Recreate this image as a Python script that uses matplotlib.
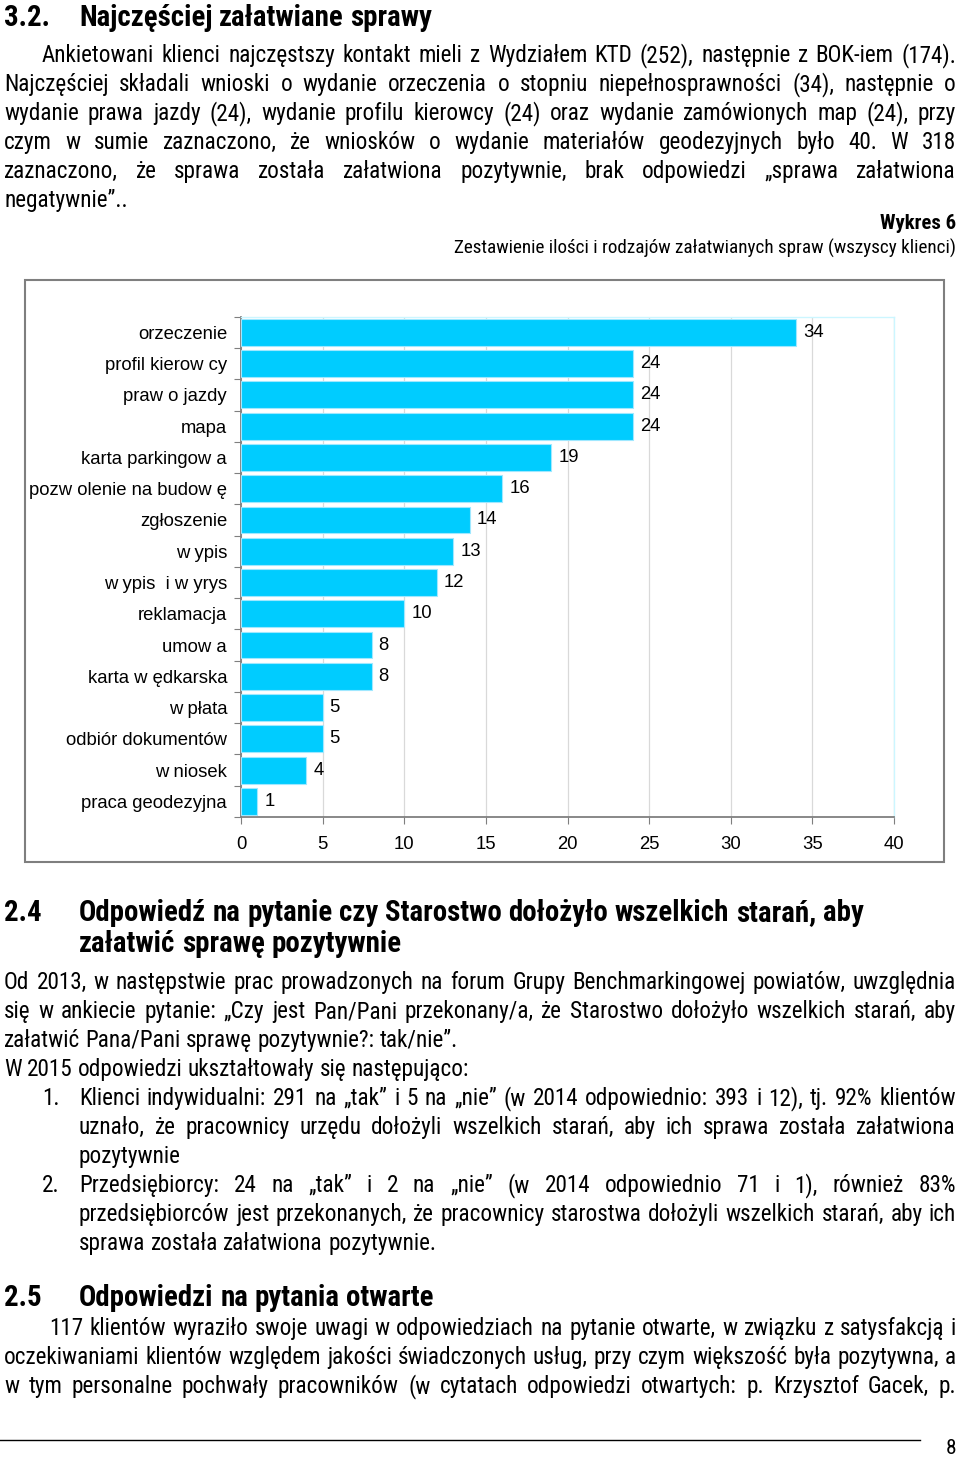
import matplotlib
matplotlib.use('Agg')
import matplotlib.pyplot as plt
from matplotlib import font_manager
from matplotlib.patches import Rectangle
from matplotlib.lines import Line2D

W, H = 960, 1460

# pick the narrowest Arial-like family that is installed
names = {f.name for f in font_manager.fontManager.ttflist}
NARROW = 'Liberation Sans'
for cand in ['Liberation Sans Narrow', 'Arial Narrow', 'Roboto Condensed', 'Liberation Sans']:
    if cand in names:
        NARROW = cand
        break
ARIAL = ['Liberation Sans', 'DejaVu Sans']

# chart data
categories = ['orzeczenie', 'profil kierow cy', 'praw o jazdy', 'mapa', 'karta parkingow a',
              'pozw olenie na budow ę', 'zgłoszenie', 'w ypis', 'w ypis  i w yrys', 'reklamacja',
              'umow a', 'karta w ędkarska', 'w płata', 'odbiór dokumentów', 'w niosek',
              'praca geodezyjna']
values = [34, 24, 24, 24, 19, 16, 14, 13, 12, 10, 8, 8, 5, 5, 4, 1]
xticks = [0, 5, 10, 15, 20, 25, 30, 35, 40]

fig = plt.figure(figsize=(W / 100, H / 100), dpi=100)
renderer = fig.canvas.get_renderer()


def fx(x):
    return x / W


def fy(y):
    return 1 - y / H


def width(s, size, weight='normal'):
    t = fig.text(0, 0, s, fontsize=size, family=NARROW, weight=weight)
    w = t.get_window_extent(renderer).width
    t.remove()
    return w


def fit(s, target, weight='normal'):
    "font size that makes s as wide as target pixels"
    return 20 * target / width(s, 20, weight)


def line(s, x0, x1, yb, size, weight='normal', justify=True):
    "Draw one line of text, word by word, optionally justified"
    words = s.split()
    texts = [fig.text(fx(x0), fy(yb), w, fontsize=size, family=NARROW, weight=weight,
                      va='baseline', ha='left') for w in words]
    widths = [t.get_window_extent(renderer).width for t in texts]
    if justify and len(words) > 1:
        gap = (x1 - x0 - sum(widths)) / (len(words) - 1)
    else:
        gap = width('a a', size, weight) - width('aa', size, weight)
    x = x0
    for t, w in zip(texts, widths):
        t.set_x(fx(x))
        x += w + gap


L, R = 4, 956
BS = fit('W 2015 odpowiedzi ukształtowały się następująco:', 463)
HS = fit('Odpowiedź na pytanie czy Starostwo dołożyło wszelkich starań, aby', 783, 'bold')

# heading 3.2
line('3.2.', L, R, 26, HS, 'bold', False)
line('Najczęściej załatwiane sprawy', 79, R, 26, HS, 'bold', False)

para1 = ['Ankietowani klienci najczęstszy kontakt mieli z Wydziałem KTD (252), następnie z BOK-iem (174).',
         'Najczęściej składali wnioski o wydanie orzeczenia o stopniu niepełnosprawności (34), następnie o',
         'wydanie prawa jazdy (24), wydanie profilu kierowcy (24) oraz wydanie zamówionych map (24), przy',
         'czym w sumie zaznaczono, że wniosków o wydanie materiałów geodezyjnych było 40. W 318',
         'zaznaczono, że sprawa została załatwiona pozytywnie, brak odpowiedzi „sprawa załatwiona',
         'negatywnie”..']
for i, s in enumerate(para1):
    line(s, 42 if i == 0 else L, R, 62 + 29 * i, BS, justify=i < len(para1) - 1)

sub = 'Zestawienie ilości i rodzajów załatwianych spraw (wszyscy klienci)'
fig.text(fx(R), fy(229), 'Wykres 6', fontsize=fit('Wykres 6', 76, 'bold'), family=NARROW,
         weight='bold', ha='right', va='baseline')
fig.text(fx(R), fy(254), sub, fontsize=fit(sub, 504), family=NARROW, ha='right', va='baseline')

# chart frame
fig.patches.append(Rectangle((fx(25), fy(862)), (944 - 25) / W, (862 - 280) / H,
                             transform=fig.transFigure, fill=False, edgecolor='#7f7f7f', lw=1.5))

ax = fig.add_axes([fx(241), fy(817), (894 - 241) / W, (817 - 316.7) / H])
ypos = list(range(len(categories)))
ax.barh(ypos, values, height=0.86, color='#00CCFF', edgecolor='#9FE8FF', lw=0.8, zorder=3)
for y, v in zip(ypos, values):
    ax.annotate(str(v), (v, y), xytext=(7, 0), textcoords='offset pixels', va='center', ha='left',
                fontsize=13.3, family=ARIAL, zorder=4)
ax.set_xlim(0, 40)
ax.set_ylim(len(categories) - 0.5, -0.5)
ax.set_xticks(xticks)
ax.set_xticklabels([str(t) for t in xticks], fontsize=13.3, family=ARIAL)
ax.set_yticks([i - 0.5 for i in range(len(categories) + 1)])
ax.set_yticklabels([])
ax.set_yticks(ypos, minor=True)
ax.set_yticklabels(categories, minor=True, fontsize=13.3, family=ARIAL)
ax.tick_params(axis='y', which='major', length=5, color='#7f7f7f', direction='out')
ax.tick_params(axis='y', which='minor', length=0, pad=10)
ax.tick_params(axis='x', length=5, color='#7f7f7f', pad=9)
ax.grid(axis='x', color='#d9d9d9', lw=0.9, zorder=0)
for side in ['left', 'bottom']:
    ax.spines[side].set_color('#7f7f7f')
    ax.spines[side].set_linewidth(1.3)
for side in ['top', 'right']:
    ax.spines[side].set_color('#ccf6ff')
    ax.spines[side].set_linewidth(1.0)

# heading 2.4
line('2.4', L, R, 921, HS, 'bold', False)
line('Odpowiedź na pytanie czy Starostwo dołożyło wszelkich starań, aby', 79, R, 921, HS, 'bold', False)
line('załatwić sprawę pozytywnie', 79, R, 952, HS, 'bold', False)

para2 = ['Od 2013, w następstwie prac prowadzonych na forum Grupy Benchmarkingowej powiatów, uwzględnia',
         'się w ankiecie pytanie: „Czy jest Pan/Pani przekonany/a, że Starostwo dołożyło wszelkich starań, aby',
         'załatwić Pana/Pani sprawę pozytywnie?: tak/nie”.']
for i, s in enumerate(para2):
    line(s, L, R, 989 + 29 * i, BS, justify=i < 2)
line('W 2015 odpowiedzi ukształtowały się następująco:', L, R, 1076, BS, justify=False)

items = [('1.', ['Klienci indywidualni: 291  na „tak” i 5 na „nie” (w 2014 odpowiednio: 393 i 12), tj. 92% klientów',
                 'uznało, że pracownicy urzędu dołożyli wszelkich starań, aby ich sprawa została załatwiona',
                 'pozytywnie']),
         ('2.', ['Przedsiębiorcy: 24 na „tak” i 2 na „nie” (w 2014 odpowiednio 71 i 1), również 83%',
                 'przedsiębiorców jest przekonanych, że pracownicy starostwa dołożyli wszelkich starań, aby ich',
                 'sprawa została załatwiona pozytywnie.'])]
yb = 1105
for num, rows in items:
    line(num, 42, R, yb, BS, justify=False)
    for i, s in enumerate(rows):
        line(s, 79, R, yb, BS, justify=i < len(rows) - 1)
        yb += 29

# heading 2.5
line('2.5', L, R, 1306, HS, 'bold', False)
line('Odpowiedzi na pytania otwarte', 79, R, 1306, HS, 'bold', False)

para3 = ['117 klientów wyraziło swoje uwagi w odpowiedziach na pytanie otwarte, w związku z satysfakcją i',
         'oczekiwaniami klientów względem jakości świadczonych usług, przy czym większość była pozytywna, a',
         'w tym personalne pochwały pracowników (w cytatach odpowiedzi otwartych: p. Krzysztof Gacek, p.']
for i, s in enumerate(para3):
    line(s, 49 if i == 0 else L, R, 1335 + 29 * i, BS)

fig.lines.append(Line2D([0, fx(920)], [fy(1440), fy(1440)], transform=fig.transFigure, color='black', lw=1))
fig.text(fx(956), fy(1458), '8', fontsize=BS * 0.92, family=NARROW, ha='right', va='bottom')

fig.savefig('out.png', dpi=100)
